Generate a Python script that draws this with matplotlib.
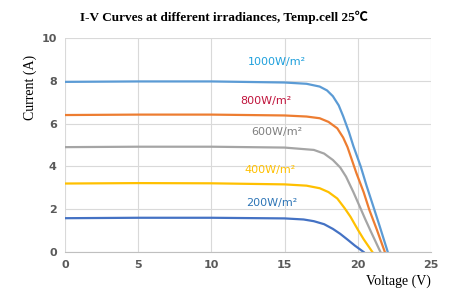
import numpy as np
import matplotlib
matplotlib.use("Agg")
import matplotlib.pyplot as plt

# I-V curves
v_1000 = [0, 5, 10, 15, 16.5, 17.4, 17.9, 18.3, 18.7, 19.0, 19.4, 19.7, 20.2, 20.6, 21.1, 21.5, 22.05]
i_1000 = [7.95, 7.97, 7.97, 7.92, 7.86, 7.73, 7.55, 7.28, 6.85, 6.35, 5.6, 4.95, 4.0, 3.1, 2.05, 1.2, 0]

v_800 = [0, 5, 10, 15, 16.5, 17.4, 18.0, 18.6, 19.0, 19.3, 19.9, 20.4, 20.8, 21.3, 21.85]
i_800 = [6.4, 6.42, 6.42, 6.38, 6.33, 6.25, 6.08, 5.78, 5.35, 4.9, 3.7, 2.8, 1.95, 1.05, 0]

v_600 = [0, 5, 10, 15, 17.0, 17.7, 18.3, 18.8, 19.2, 19.7, 20.15, 20.5, 20.9, 21.55]
i_600 = [4.9, 4.92, 4.92, 4.88, 4.77, 4.6, 4.3, 3.95, 3.52, 2.8, 2.1, 1.55, 0.95, 0]

v_400 = [0, 5, 10, 15, 16.5, 17.4, 18.0, 18.6, 19.1, 19.5, 20.0, 20.4, 21.0]
i_400 = [3.2, 3.22, 3.21, 3.16, 3.1, 2.98, 2.8, 2.5, 2.05, 1.65, 1.05, 0.6, 0]

v_200 = [0, 5, 10, 15, 16.3, 17.0, 17.7, 18.3, 18.8, 19.3, 19.8, 20.4]
i_200 = [1.58, 1.6, 1.6, 1.57, 1.52, 1.44, 1.3, 1.08, 0.85, 0.58, 0.3, 0]

labels = ["1000W/m²", "800W/m²", "600W/m²", "400W/m²", "200W/m²"]
label_pos = [(14.5, 8.9), (13.7, 7.05), (14.5, 5.6), (14.0, 3.85), (14.1, 2.3)]
line_colors = ["#5B9BD5", "#ED7D31", "#A5A5A5", "#FFC000", "#4472C4"]
label_colors = ["#1FA0DC", "#C0143C", "#7F7F7F", "#FFC000", "#2E75B6"]

fig = plt.figure(figsize=(4.49, 2.90), dpi=100)
ax = fig.add_axes([0.1448, 0.131, 0.815, 0.738])

curves = [(v_1000, i_1000), (v_800, i_800), (v_600, i_600), (v_400, i_400), (v_200, i_200)]
for (v, i), c in zip(curves, line_colors):
    ax.plot(v, i, color=c, linewidth=1.6, solid_joinstyle="round")

for txt, (x, y), c in zip(labels, label_pos, label_colors):
    ax.text(x, y, txt, color=c, fontsize=8, ha="center", va="center")

ax.set_xlim(0, 25)
ax.set_ylim(0, 10)
ax.set_xticks([0, 5, 10, 15, 20, 25])
ax.set_yticks([0, 2, 4, 6, 8, 10])
ax.grid(True, color="#D9D9D9", linewidth=0.8)
ax.set_axisbelow(True)
for s in ["top", "right", "left"]:
    ax.spines[s].set_visible(False)
ax.spines["bottom"].set_color("#BFBFBF")
ax.tick_params(length=0, labelsize=8, colors="#595959", pad=6)
for lbl in ax.get_xticklabels() + ax.get_yticklabels():
    lbl.set_fontweight("bold")

serif = "Liberation Serif"
fig.text(0.5, 0.94, "I-V Curves at different irradiances, Temp.cell 25℃",
         ha="center", va="center", fontsize=9.5, fontweight="bold",
         family=[serif, "Noto Sans CJK SC", "DejaVu Sans"])
fig.text(0.067, 0.70, "Current (A)", rotation=90, ha="center", va="center",
         fontsize=10, family=serif)
fig.text(0.887, 0.03, "Voltage (V)", ha="center", va="center", fontsize=10, family=serif)

fig.savefig("out.png", dpi=100)
